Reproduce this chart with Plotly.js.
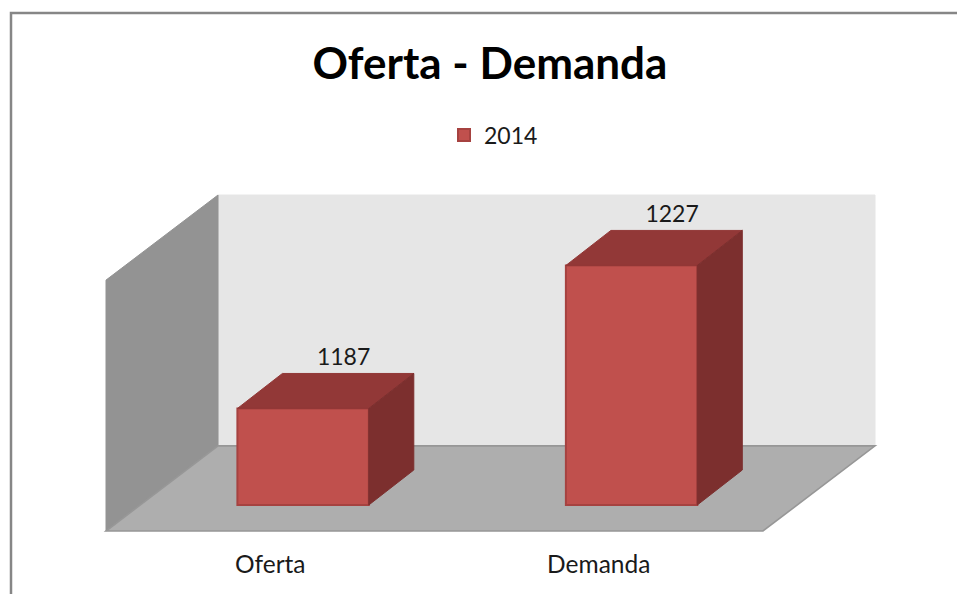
<!DOCTYPE html>
<html>
<head>
<meta charset="utf-8">
<script src="https://cdn.plot.ly/plotly-3.0.1.min.js"></script>
<style>html,body{margin:0;padding:0;background:#fff}#chart{width:957px;height:594px}</style>
</head>
<body>
<div id="chart"></div>
<script>
const categories = ["Oferta", "Demanda"];
const values = [1187, 1227];
const seriesName = "2014";
const chartTitle = "Oferta - Demanda";

const BASE = 1160, BAR_W = 0.4, DX = 0.137, DY = 9.79;
const XR = [-0.6, 1.741], YR = [1152.73, 1246.7];
const WALL_DX = 0.341, WALL_DY = 23.8;
const idx = categories.map((_, i) => i);
const W = 957, H = 594, M = {l:106, r:82, t:195, b:63};
const pw = W - M.l - M.r, ph = H - M.t - M.b;
const px = v => (v - XR[0]) / (XR[1] - XR[0]);
const py = v => (v - YR[0]) / (YR[1] - YR[0]);
const path = pts => "M" + pts.map(p => px(p[0]) + "," + py(p[1])).join(" L") + " Z";
const poly = (pts, fill, line, lw) => ({type:"path", xref:"paper", yref:"paper", layer:"below",
  path:path(pts), fillcolor:fill, line:{color:line, width:lw}});

const xb = XR[0] + WALL_DX, yb = YR[0] + WALL_DY;
const shapes = [
  poly([[xb,yb],[XR[1],yb],[XR[1],YR[1]],[xb,YR[1]]], "#E6E6E6", "#E6E6E6", 1),
  poly([[XR[0],YR[0]],[xb,yb],[xb,YR[1]],[XR[0],YR[0] + YR[1] - yb]], "#939393", "#939393", 1),
  poly([[XR[0],YR[0]],[XR[1]-WALL_DX,YR[0]],[XR[1],yb],[xb,yb]], "#AEAEAE", "#979797", 1.6),
  {type:"path", xref:"paper", yref:"paper", layer:"below",
   path:"M" + ((11-M.l)/pw) + "," + (-M.b/ph) + " L" + ((11-M.l)/pw) + "," + ((H-M.b-13)/ph) + " L" + ((W-M.l)/pw) + "," + ((H-M.b-13)/ph),
   line:{color:"#868686", width:2.5}}
];

const face = (xs, ys, fill) => ({type:"scatter", mode:"lines", x:xs, y:ys, fill:"toself",
  fillcolor:fill, line:{color:fill, width:1}, hoverinfo:"skip", showlegend:false});

const traces = [{
  type:"bar", name:seriesName, x:idx, y:values.map(v => v - BASE), base:BASE, width:BAR_W,
  marker:{color:"#C0504D", line:{color:"#A64240", width:2}}, hoverinfo:"skip"
}];
idx.forEach(i => {
  const l = i - BAR_W/2, r = i + BAR_W/2, v = values[i];
  traces.push(face([l, r, r+DX, l+DX, l], [v, v, v+DY, v+DY, v], "#923837"));
  traces.push(face([r, r+DX, r+DX, r, r], [v, v+DY, BASE+DY, BASE, v], "#7C2F2E"));
});
traces.push({type:"scatter", mode:"text", x:idx.map(i => i + DX*0.9), y:values.map(v => v + DY + 0.8),
  text:values.map(String), textposition:"top center",
  textfont:{family:"Lato, sans-serif", size:23, color:"#1a1a1a"},
  hoverinfo:"skip", showlegend:false, cliponaxis:false});

const layout = {
  width:W, height:H, margin:M, paper_bgcolor:"#fff", plot_bgcolor:"rgba(0,0,0,0)",
  font:{family:"Lato, sans-serif", size:23, color:"#1a1a1a"},
  title:{text:"<b>"+chartTitle+"</b>", x:490/W, xanchor:"center", y:1-64/H, yanchor:"middle",
    font:{family:"Lato, sans-serif", size:44, color:"#000"}},
  legend:{orientation:"h", x:(444-M.l)/pw, xanchor:"left", y:(H-M.b-135)/ph, yanchor:"middle",
    bgcolor:"rgba(0,0,0,0)", font:{family:"Lato, sans-serif", size:23, color:"#1a1a1a"}, itemwidth:30},
  xaxis:{range:XR, tickmode:"array", tickvals:idx.map(i => i - 0.1), ticktext:categories,
    showgrid:false, zeroline:false, showline:false, ticks:"", ticklabelstandoff:16, automargin:false,
    tickfont:{family:"Lato, sans-serif", size:24.5, color:"#1a1a1a"}},
  yaxis:{range:YR, visible:false, showgrid:false, zeroline:false, automargin:false},
  shapes:shapes, hovermode:false
};
Plotly.newPlot("chart", traces, layout, {displayModeBar:false, staticPlot:true});
</script>
</body>
</html>
